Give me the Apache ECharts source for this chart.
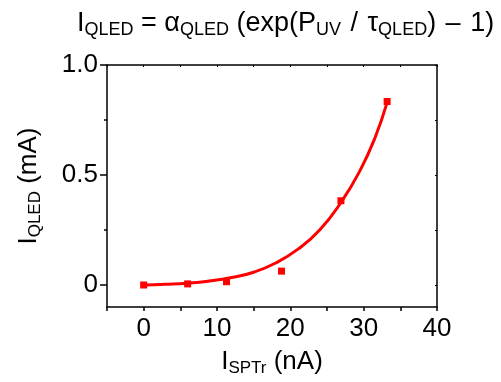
<!DOCTYPE html>
<html>
<head>
<meta charset="utf-8">
<script src="https://cdn.jsdelivr.net/npm/echarts@6/dist/echarts.min.js"></script>
<style>
  html, body { margin: 0; padding: 0; background: #fff; }
  #main { width: 501px; height: 382px; }
</style>
</head>
<body>
<div id="main"></div>
<script>
// 测量点
const measX = [0, 6.0, 11.3, 18.8, 26.9, 33.2]
const measY = [0, 0.005, 0.015, 0.063, 0.383, 0.834]
// 拟合曲线
const fitX = [0, 3, 6, 9, 12, 15, 18, 21, 24, 27, 29.5, 31.5, 33.2]
const fitY = [0, 0.003, 0.008, 0.018, 0.034, 0.058, 0.1, 0.162, 0.25, 0.38, 0.52, 0.665, 0.83]
// 刻度
const xTickLabels = [0, 10, 20, 30, 40]
const xTicks = [-5, 0, 5, 10, 15, 20, 25, 30, 35, 40]
const yTickLabels = [0, 0.5, 1.0]
const yMinorTicks = [0.25, 0.75]
const yTicks = [0, 0.25, 0.5, 0.75, 1.0]

const font = 'Liberation Sans, Arial, sans-serif'
const base = { fontSize: 26, fontFamily: font, color: '#000', fontWeight: 'normal' }
const sub = { fontSize: 17, fontFamily: font, color: '#000', fontWeight: 'normal', padding: [13, 0, 0, 0] }
// 标题字稍大一点
const tBase = Object.assign({}, base, { fontSize: 27 })
const tSub = Object.assign({}, sub, { fontSize: 18, padding: [13, 0, 0, 0] })
const tGap = Object.assign({}, tBase, { padding: [0, 2, 0, 2] })

const chart = echarts.init(document.getElementById('main'))
const line = { show: true, onZero: false, lineStyle: { color: '#000', width: 1.5 } }

const option = {
  animation: false,
  title: {
    text: '{b|I}{s|QLED}{b| = α}{s|QLED}{b| (exp(P}{s|UV}{g| / }{b|τ}{s|QLED}{b|)}{g| – }{b|1)}',
    left: 72,
    top: 3,
    textStyle: { fontWeight: 'normal', rich: { b: tBase, s: tSub, g: tGap } }
  },
  grid: { left: 107, right: 64, top: 65, bottom: 72 },
  xAxis: [
    {
      type: 'value', min: -5, max: 40, position: 'bottom',
      axisLine: line,
      axisTick: { show: true, length: 4, customValues: xTicks, lineStyle: { color: '#000', width: 1.5 } },
      axisLabel: {
        customValues: xTickLabels, fontSize: 26, fontFamily: font, color: '#000', margin: 9
      },
      splitLine: { show: false },
      name: '{b|I}{s|SPTr}{b| (nA)}',
      nameLocation: 'middle',
      nameGap: 40,
      nameTextStyle: { rich: { b: base, s: sub } }
    },
    {
      type: 'value', min: -5, max: 40, position: 'top',
      axisLine: line,
      axisTick: { show: true, inside: true, length: 2, customValues: xTicks, lineStyle: { color: '#000' } },
      axisLabel: { show: false },
      splitLine: { show: false }
    }
  ],
  yAxis: [
    {
      type: 'value', min: -0.1, max: 1.0, position: 'left',
      axisLine: line,
      axisTick: { show: true, length: 7, customValues: yTickLabels, lineStyle: { color: '#000', width: 1.5 } },
      axisLabel: {
        customValues: yTickLabels, fontSize: 26, fontFamily: font, color: '#000', margin: 9,
        formatter: v => (v === 0 ? '0' : v.toFixed(1))
      },
      splitLine: { show: false },
      name: '{b|I}{s|QLED}{b| (mA)}',
      nameLocation: 'middle',
      nameGap: 63,
      nameRotate: 90,
      nameTextStyle: { rich: { b: base, s: sub } }
    },
    {
      type: 'value', min: -0.1, max: 1.0, position: 'left',
      axisLine: { show: false, onZero: false },
      axisTick: { show: true, length: 3, customValues: yMinorTicks, lineStyle: { color: '#000', width: 1.5 } },
      axisLabel: { show: false },
      splitLine: { show: false }
    },
    {
      type: 'value', min: -0.1, max: 1.0, position: 'right',
      axisLine: line,
      axisTick: { show: true, inside: true, length: 2, customValues: yTicks, lineStyle: { color: '#000' } },
      axisLabel: { show: false },
      splitLine: { show: false }
    }
  ],
  series: [
    {
      type: 'line',
      data: fitX.map((x, i) => [x, fitY[i]]),
      smooth: true,
      symbol: 'none',
      lineStyle: { color: '#ff0000', width: 3 }
    },
    {
      type: 'scatter',
      data: measX.map((x, i) => [x, measY[i]]),
      symbol: 'rect',
      symbolSize: 7,
      itemStyle: { color: '#ff0000', opacity: 1 }
    }
  ]
}
chart.setOption(option)
</script>
</body>
</html>
